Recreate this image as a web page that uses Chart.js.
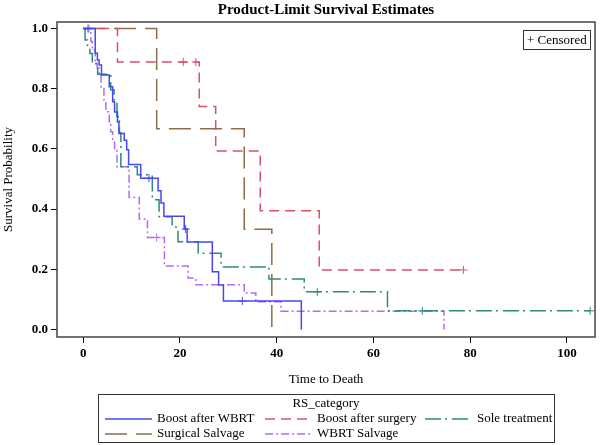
<!DOCTYPE html>
<html>
<head>
<meta charset="utf-8">
<script src="https://cdn.jsdelivr.net/npm/chart.js@4"></script>
<style>
  html, body { margin: 0; padding: 0; background: #fff; }
  #wrap { width: 600px; height: 445px; }
</style>
</head>
<body>
<div id="wrap"><canvas id="km" width="600" height="445"></canvas></div>
<script>
const xTicks = [0, 20, 40, 60, 80, 100];
const yTicks = [0, 0.2, 0.4, 0.6, 0.8, 1.0];

// Boost after WBRT
const wbrtBoostTime = [0, 2.5, 2.95, 3.3, 3.8, 5.4, 6.1, 6.5, 7.1, 7.4, 8.5, 9.0, 9.4, 11.9, 15.5, 16.1, 16.7, 20.9, 21.5, 26.7, 28.0, 29.0, 45.1];
const wbrtBoostSurv = [1, 0.918, 0.896, 0.879, 0.846, 0.807, 0.757, 0.723, 0.690, 0.651, 0.629, 0.597, 0.548, 0.503, 0.461, 0.420, 0.376, 0.334, 0.291, 0.192, 0.148, 0.095, 0];
const wbrtBoostCensor = [1.0, 13.6, 21.2, 32.9];

// Boost after surgery
const surgBoostTime = [0, 7.1, 24.0, 27.4, 36.6, 48.8, 78.6];
const surgBoostSurv = [1, 0.889, 0.741, 0.593, 0.395, 0.198, 0.198];
const surgBoostCensor = [20.7, 23.3, 78.6];

// Sole treatment
const soleTime = [0, 0.4, 0.9, 1.4, 1.9, 3.0, 5.7, 6.4, 7.0, 7.5, 7.8, 11.2, 14.3, 15.7, 18.4, 19.6, 23.8, 28.5, 38.4, 45.7, 62.9, 104.8];
const soleSurv = [1, 0.962, 0.937, 0.917, 0.883, 0.848, 0.797, 0.754, 0.707, 0.654, 0.541, 0.514, 0.431, 0.375, 0.341, 0.292, 0.253, 0.208, 0.168, 0.125, 0.062, 0.062];
const soleCensor = [48.4, 70.1, 104.8];

// Surgical Salvage
const surgSalvTime = [0, 15.2, 33.3, 39.0];
const surgSalvSurv = [1, 0.667, 0.333, 0];
const surgSalvCensor = [];

// WBRT Salvage
const wbrtSalvTime = [0, 1.6, 1.9, 2.5, 2.9, 3.3, 3.7, 4.3, 4.7, 5.4, 5.7, 6.1, 6.5, 7.0, 9.5, 11.6, 13.3, 16.8, 21.7, 23.3, 33.3, 35.7, 40.9, 74.6];
const wbrtSalvSurv = [1, 0.957, 0.929, 0.89, 0.87, 0.846, 0.801, 0.757, 0.724, 0.690, 0.657, 0.629, 0.601, 0.541, 0.439, 0.367, 0.306, 0.211, 0.171, 0.149, 0.121, 0.092, 0.061, 0];
const wbrtSalvCensor = [1.2, 15.2];

const SERIF = '"Liberation Serif", "DejaVu Serif", serif';

const series = [
  { label: 'Boost after WBRT', time: wbrtBoostTime, surv: wbrtBoostSurv, censor: wbrtBoostCensor, color: '#4747f2', dash: [] },
  { label: 'Boost after surgery', time: surgBoostTime, surv: surgBoostSurv, censor: surgBoostCensor, color: '#de4f68', dash: [10, 6] },
  { label: 'Sole treatment', time: soleTime, surv: soleSurv, censor: soleCensor, color: '#2f8a7c', dash: [16, 4, 2, 5] },
  { label: 'Surgical Salvage', time: surgSalvTime, surv: surgSalvSurv, censor: surgSalvCensor, color: '#8d6d4b', dash: [22, 9] },
  { label: 'WBRT Salvage', time: wbrtSalvTime, surv: wbrtSalvSurv, censor: wbrtSalvCensor, color: '#b46af5', dash: [8, 3, 2, 3] },
];

function survAt(s, t) {
  let v = s.surv[0];
  for (let i = 0; i < s.time.length; i++) {
    if (s.time[i] <= t) v = s.surv[i];
  }
  return v;
}

const datasets = [];
series.forEach((s) => {
  datasets.push({
    type: 'line',
    label: s.label,
    data: s.time.map((t, i) => ({ x: t, y: s.surv[i] })),
    stepped: true,
    borderColor: s.color,
    borderDash: s.dash,
    borderWidth: 1.5,
    pointRadius: 0,
    fill: false,
  });
});
series.forEach((s) => {
  datasets.push({
    type: 'scatter',
    label: s.label + ' censored',
    data: s.censor.map((t) => ({ x: t, y: survAt(s, t) })),
    pointStyle: 'cross',
    pointRadius: 4,
    borderColor: s.color,
    borderWidth: 1,
    showLine: false,
  });
});

const decorations = {
  id: 'decorations',
  afterDraw(chart) {
    const { ctx, chartArea } = chart;
    const cx = (chartArea.left + chartArea.right) / 2;
    ctx.save();

    // frame
    ctx.strokeStyle = '#444';
    ctx.lineWidth = 1.5;
    ctx.setLineDash([]);
    ctx.strokeRect(chartArea.left, chartArea.top, chartArea.right - chartArea.left, chartArea.bottom - chartArea.top);

    ctx.fillStyle = '#000';
    ctx.textAlign = 'center';
    ctx.textBaseline = 'middle';

    // title
    ctx.font = 'bold 15px ' + SERIF;
    ctx.fillText('Product-Limit Survival Estimates', cx, 10);

    // axis titles
    ctx.font = '13px ' + SERIF;
    ctx.fillText('Time to Death', cx, 380);
    ctx.save();
    ctx.translate(9, (chartArea.top + chartArea.bottom) / 2);
    ctx.rotate(-Math.PI / 2);
    ctx.font = '13px ' + SERIF;
    ctx.fillText('Survival Probability', 0, 0);
    ctx.restore();

    // censored box
    ctx.lineWidth = 1;
    ctx.strokeStyle = '#333';
    ctx.strokeRect(523.5, 30.5, 67, 19);
    ctx.font = '13px ' + SERIF;
    ctx.textAlign = 'left';
    ctx.fillText('+ Censored', 527, 40.5);

    // legend
    ctx.strokeRect(98.5, 394.5, 456, 48);
    ctx.textAlign = 'center';
    ctx.fillText('RS_category', cx, 404);
    const cols = [105, 265, 425];
    const rows = [419, 434];
    series.forEach((s, i) => {
      const x = cols[i % 3];
      const y = rows[Math.floor(i / 3)];
      ctx.strokeStyle = s.color;
      ctx.lineWidth = 1.5;
      ctx.setLineDash(s.dash);
      ctx.beginPath();
      ctx.moveTo(x, y);
      ctx.lineTo(x + 47, y);
      ctx.stroke();
      ctx.setLineDash([]);
      ctx.textAlign = 'left';
      ctx.fillText(s.label, x + 52, y);
    });
    ctx.restore();
  },
};

new Chart(document.getElementById('km'), {
  type: 'line',
  data: { datasets },
  options: {
    responsive: false,
    animation: false,
    layout: { padding: { top: 22, right: 4, left: 0, bottom: 0 } },
    plugins: {
      legend: { display: false },
      tooltip: { enabled: false },
    },
    scales: {
      x: {
        type: 'linear',
        min: -5.4,
        max: 105.8,
        afterBuildTicks: (scale) => { scale.ticks = xTicks.map((v) => ({ value: v })); },
        afterFit: (scale) => { scale.height = 108; },
        grid: { display: true, drawOnChartArea: false, tickLength: 6, color: '#000' },
        border: { display: false },
        ticks: { color: '#000', padding: 3, font: { family: SERIF, size: 13, weight: 'bold' } },
      },
      y: {
        type: 'linear',
        min: -0.025,
        max: 1.022,
        afterBuildTicks: (scale) => { scale.ticks = yTicks.map((v) => ({ value: v })); },
        afterFit: (scale) => { scale.width = 57; },
        grid: { display: true, drawOnChartArea: false, tickLength: 6, color: '#000' },
        border: { display: false },
        ticks: {
          color: '#000',
          padding: 3,
          font: { family: SERIF, size: 13, weight: 'bold' },
          callback: (v) => v.toFixed(1),
        },
      },
    },
  },
  plugins: [decorations],
});
</script>
</body>
</html>
